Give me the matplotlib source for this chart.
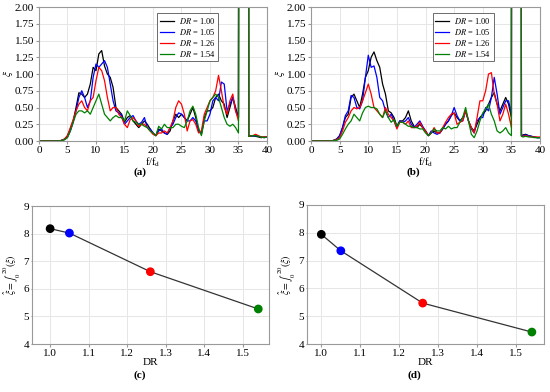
import numpy as np
import matplotlib.pyplot as plt

plt.rcParams['font.family'] = ['Liberation Serif', 'DejaVu Serif']
plt.rcParams['mathtext.fontset'] = 'stix'

# frequency grid (f/fd): 0..35 in steps of 0.5, then the spike and tail points
freq_main = list(np.arange(0, 35.01, 0.5))
freq_tail = [35.25, 36.6, 36.8, 37.0, 37.5, 38.0, 38.5, 39.0, 39.5, 40.0]
freq_b_tail = [35.15, 36.55, 36.75, 37.0, 37.5, 38.0, 38.5, 39.0, 39.5, 40.0]

dr_labels = ["1.00", "1.05", "1.26", "1.54"]
colors = ["#000000", "#0000ff", "#ff0000", "#008000"]

z8 = [0, 0, 0, 0, 0, 0, 0, 0]  # f = 0 .. 3.5

# panel (a)
a_100 = z8 + [0.01, 0.03, 0.08, 0.18, 0.30, 0.50, 0.72, 0.70, 0.65, 0.70, 0.85, 1.10, 1.05, 1.30, 1.35, 1.12,
              1.00, 0.95, 0.80, 0.50, 0.45, 0.40, 0.28, 0.35, 0.38, 0.30, 0.25, 0.20, 0.25, 0.30, 0.25, 0.18,
              0.12, 0.08, 0.18, 0.15, 0.12, 0.10, 0.15, 0.30, 0.40, 0.35, 0.40, 0.35, 0.30, 0.40, 0.50, 0.35,
              0.15, 0.10, 0.35, 0.45, 0.45, 0.50, 0.65, 0.70, 0.60, 0.55, 0.35, 0.50, 0.65, 0.50, 0.35]
a_105 = z8 + [0.01, 0.02, 0.06, 0.15, 0.28, 0.45, 0.65, 0.75, 0.65, 0.50, 0.60, 0.95, 1.15, 1.10, 1.15, 1.20,
              1.10, 0.85, 0.60, 0.45, 0.42, 0.38, 0.25, 0.30, 0.35, 0.38, 0.30, 0.25, 0.28, 0.35, 0.20, 0.18,
              0.12, 0.08, 0.15, 0.18, 0.12, 0.10, 0.20, 0.25, 0.35, 0.42, 0.40, 0.35, 0.30, 0.30, 0.35, 0.30,
              0.15, 0.12, 0.30, 0.30, 0.40, 0.60, 0.65, 0.60, 0.88, 0.85, 0.45, 0.55, 0.65, 0.45, 0.35]
a_126 = z8 + [0.01, 0.03, 0.08, 0.20, 0.32, 0.45, 0.55, 0.60, 0.50, 0.45, 0.60, 0.65, 0.90, 1.10, 1.05, 0.90,
              0.65, 0.45, 0.50, 0.50, 0.40, 0.35, 0.25, 0.20, 0.32, 0.35, 0.30, 0.22, 0.25, 0.25, 0.20, 0.15,
              0.10, 0.08, 0.12, 0.12, 0.15, 0.12, 0.20, 0.30, 0.50, 0.60, 0.55, 0.40, 0.15, 0.30, 0.32, 0.25,
              0.12, 0.15, 0.40, 0.50, 0.60, 0.65, 0.75, 0.98, 0.75, 0.50, 0.40, 0.60, 0.70, 0.45, 0.30]
a_154 = z8 + [0.01, 0.02, 0.05, 0.15, 0.28, 0.40, 0.45, 0.45, 0.42, 0.45, 0.40, 0.50, 0.60, 0.70, 0.55, 0.40,
              0.35, 0.30, 0.35, 0.38, 0.35, 0.35, 0.30, 0.45, 0.38, 0.30, 0.28, 0.25, 0.25, 0.22, 0.20, 0.15,
              0.12, 0.08, 0.22, 0.18, 0.25, 0.20, 0.20, 0.20, 0.25, 0.25, 0.22, 0.20, 0.30, 0.45, 0.52, 0.40,
              0.20, 0.08, 0.30, 0.45, 0.60, 0.65, 0.70, 0.65, 0.50, 0.35, 0.25, 0.22, 0.25, 0.20, 0.12]

# panel (b)
b_100 = z8 + [0.01, 0.03, 0.08, 0.20, 0.35, 0.40, 0.65, 0.70, 0.60, 0.50, 0.70, 0.95, 1.05, 1.25, 1.33, 1.20,
              1.10, 0.85, 0.70, 0.45, 0.42, 0.35, 0.22, 0.30, 0.30, 0.35, 0.45, 0.30, 0.22, 0.20, 0.25, 0.20,
              0.15, 0.08, 0.12, 0.15, 0.12, 0.12, 0.18, 0.25, 0.30, 0.38, 0.42, 0.35, 0.30, 0.35, 0.45, 0.30,
              0.20, 0.15, 0.25, 0.35, 0.40, 0.45, 0.55, 0.65, 0.72, 0.55, 0.45, 0.55, 0.65, 0.55, 0.35]
b_105 = z8 + [0.01, 0.03, 0.08, 0.20, 0.38, 0.45, 0.68, 0.65, 0.50, 0.48, 0.60, 0.95, 1.28, 1.10, 1.12, 0.95,
              0.65, 0.60, 0.45, 0.35, 0.40, 0.30, 0.20, 0.30, 0.28, 0.30, 0.35, 0.25, 0.20, 0.25, 0.30, 0.22,
              0.15, 0.08, 0.15, 0.12, 0.10, 0.12, 0.18, 0.25, 0.30, 0.38, 0.50, 0.38, 0.30, 0.30, 0.45, 0.30,
              0.18, 0.12, 0.30, 0.35, 0.35, 0.50, 0.45, 0.65, 0.95, 0.70, 0.40, 0.50, 0.60, 0.60, 0.40]
b_126 = z8 + [0.01, 0.02, 0.05, 0.15, 0.28, 0.35, 0.45, 0.50, 0.48, 0.50, 0.60, 0.72, 0.85, 0.70, 0.50, 0.45,
              0.40, 0.35, 0.50, 0.40, 0.35, 0.30, 0.18, 0.28, 0.28, 0.25, 0.30, 0.20, 0.20, 0.22, 0.28, 0.20,
              0.15, 0.08, 0.12, 0.20, 0.12, 0.12, 0.20, 0.28, 0.35, 0.40, 0.42, 0.25, 0.28, 0.30, 0.45, 0.30,
              0.20, 0.12, 0.35, 0.60, 0.60, 0.75, 1.00, 1.02, 0.70, 0.55, 0.30, 0.40, 0.55, 0.40, 0.20]
b_154 = z8 + [0.01, 0.01, 0.03, 0.10, 0.18, 0.25, 0.30, 0.40, 0.35, 0.30, 0.42, 0.50, 0.52, 0.50, 0.50, 0.48,
              0.40, 0.35, 0.45, 0.35, 0.28, 0.32, 0.22, 0.28, 0.28, 0.25, 0.22, 0.22, 0.20, 0.20, 0.18, 0.18,
              0.12, 0.08, 0.12, 0.18, 0.15, 0.15, 0.20, 0.18, 0.22, 0.18, 0.20, 0.20, 0.28, 0.35, 0.50, 0.30,
              0.10, 0.05, 0.15, 0.30, 0.42, 0.48, 0.55, 0.40, 0.30, 0.15, 0.12, 0.15, 0.20, 0.12, 0.08]

# spike (off-scale) and tail after f/fd = 36.6
tail_a = [[25, 25, 0.07, 0.07, 0.08, 0.07, 0.06, 0.05, 0.06, 0.06],
          [25, 25, 0.08, 0.08, 0.07, 0.08, 0.07, 0.06, 0.05, 0.06],
          [25, 25, 0.08, 0.07, 0.08, 0.10, 0.08, 0.06, 0.06, 0.06],
          [25, 25, 0.07, 0.07, 0.08, 0.08, 0.07, 0.06, 0.05, 0.06]]
tail_b = [[25, 25, 0.08, 0.09, 0.10, 0.08, 0.07, 0.06, 0.05, 0.05],
          [25, 25, 0.08, 0.08, 0.09, 0.08, 0.07, 0.06, 0.05, 0.05],
          [25, 25, 0.07, 0.07, 0.08, 0.07, 0.06, 0.06, 0.06, 0.06],
          [25, 25, 0.07, 0.06, 0.07, 0.06, 0.06, 0.05, 0.05, 0.05]]

# integrated values (c) and (d)
dr = [1.00, 1.05, 1.26, 1.54]
xi_c = [8.18, 8.02, 6.62, 5.27]
xi_d = [7.94, 7.35, 5.47, 4.43]

fig = plt.figure(figsize=(5.5, 3.92), dpi=100)
ax_a = fig.add_axes([0.0709, 0.6403, 0.4145, 0.3418])
ax_b = fig.add_axes([0.5655, 0.6403, 0.4164, 0.3418])
ax_c = fig.add_axes([0.0582, 0.1224, 0.431, 0.352])
ax_d = fig.add_axes([0.558, 0.1224, 0.431, 0.355])

grey = "#999999"


def style(ax):
    for s in ax.spines.values():
        s.set_color(grey)
        s.set_linewidth(0.8)
    ax.grid(True, color="#e6e6e6", linewidth=0.7)
    ax.set_axisbelow(True)
    ax.tick_params(labelsize=8, length=2, color=grey, pad=1.5)


def spectrum(ax, series, tails, tail_f, legend_x):
    f = freq_main + tail_f
    for vals, tail, c, lab in zip(series, tails, colors, dr_labels):
        ax.plot(f, vals + tail, color=c, lw=0.9, label="$DR$ = " + lab)
    ax.set_xlim(0, 40)
    ax.set_ylim(0, 2)
    ax.set_xticks(range(0, 41, 5))
    ax.set_yticks(np.arange(0, 2.01, 0.25))
    ax.yaxis.set_major_formatter(plt.FormatStrFormatter("%.2f"))
    ax.set_xlabel("f/f$_\\mathrm{d}$", fontsize=7.5, labelpad=0.5)
    ax.set_ylabel("$\\xi$", fontsize=8, labelpad=0)
    style(ax)
    leg = ax.legend(loc="upper right", bbox_to_anchor=(legend_x, 0.985), fontsize=6,
                    handlelength=1.7, handletextpad=0.6, labelspacing=0.12,
                    borderpad=0.3, fancybox=False, framealpha=1)
    leg.get_frame().set_edgecolor("#555555")
    leg.get_frame().set_linewidth(0.6)


spectrum(ax_a, [a_100, a_105, a_126, a_154], tail_a, freq_tail, 0.805)
spectrum(ax_b, [b_100, b_105, b_126, b_154], tail_b, freq_b_tail, 0.815)


def integral(ax, vals, xlim):
    ax.plot(dr, vals, color="#333333", lw=0.9, zorder=2)
    ax.scatter(dr, vals, c=colors, s=28, zorder=3)
    ax.set_xlim(*xlim)
    ax.set_ylim(4, 9)
    ax.set_xticks([1.0, 1.1, 1.2, 1.3, 1.4, 1.5])
    ax.set_yticks(range(4, 10))
    ax.set_xlabel("DR", fontsize=8, labelpad=0)
    ax.set_ylabel("$\\hat{\\xi} = \\int_0^{20}(\\xi)$", fontsize=7)
    ax.yaxis.set_label_coords(-0.036, 0.5)
    style(ax)
    ax.tick_params(axis="y", length=1, pad=1)


integral(ax_c, xi_c, (0.953, 1.568))
integral(ax_d, xi_d, (0.963, 1.571))

for x, y, t in [(0.2545, 0.56, "(a)"), (0.751, 0.56, "(b)"),
                (0.2545, 0.043, "(c)"), (0.753, 0.043, "(d)")]:
    fig.text(x, y, t, ha="center", va="center", fontsize=8, fontweight="bold")

fig.savefig("out.png", dpi=100)
